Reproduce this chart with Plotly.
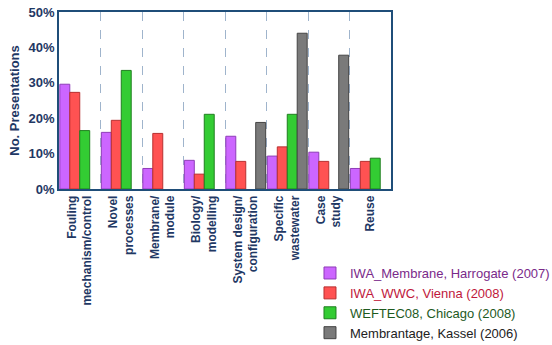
import plotly.graph_objects as go

categories = ["Fouling<br>mechanism/control", "Novel<br>processes", "Membrane/<br>module",
              "Biology/<br>modelling", "System design/<br>configuration", "Specific<br>wastewater",
              "Case<br>study", "Reuse"]
iwa_membrane = [29.6, 16.0, 5.8, 8.1, 14.9, 9.3, 10.4, 5.8]
iwa_wwc = [27.3, 19.4, 15.7, 4.2, 7.8, 11.9, 7.8, 7.8]
weftec = [16.5, 33.5, None, 21.1, None, 21.1, None, 8.7]
membrantage = [None, None, None, None, 18.8, 44.0, 37.8, None]
y_ticks = [0, 10, 20, 30, 40, 50]
y_ticklabels = ["0%", "10%", "20%", "30%", "40%", "50%"]

series = [
    ("IWA_Membrane, Harrogate (2007)", iwa_membrane, "#CC66FF", "#8E3DB8", "#7A2A8A"),
    ("IWA_WWC, Vienna (2008)", iwa_wwc, "#FF5252", "#B83030", "#C0183C"),
    ("WEFTEC08, Chicago (2008)", weftec, "#33CC33", "#1F7F1F", "#1E5A1E"),
    ("Membrantage, Kassel (2006)", membrantage, "#7A7A7A", "#444444", "#222222"),
]

navy = "#1F3864"
fig = go.Figure()
for name, vals, col, edge, txtcol in series:
    fig.add_trace(go.Bar(
        x=categories, y=vals,
        name=f"<span style='color:{txtcol}'>{name}</span>",
        marker=dict(color=col, line=dict(color=edge, width=1)),
    ))

fig.update_layout(
    width=552, height=345,
    margin=dict(l=59, r=161, t=12, b=156, autoexpand=False),
    paper_bgcolor="white", plot_bgcolor="white",
    barmode="group", bargap=0.04, bargroupgap=0.0,
    font=dict(family="Arial, Liberation Sans, sans-serif", color=navy),
    showlegend=True,
    legend=dict(x=0.756, y=-0.39, xanchor="left", yanchor="top",
                font=dict(size=13, family="Arial, Liberation Sans, sans-serif"),
                bgcolor="rgba(0,0,0,0)", traceorder="normal"),
    xaxis=dict(
        automargin=False,
        tickangle=-90, tickson="boundaries", showgrid=True,
        gridcolor="#9FB4CC", griddash="dash", gridwidth=1,
        showline=True, linecolor="#1F4E79", linewidth=1.5, mirror=True,
        ticks="", tickfont=dict(size=12, color=navy),
    ),
    yaxis=dict(
        automargin=False,
        range=[0, 50], tickvals=y_ticks, ticktext=[f"<b>{t}</b>" for t in y_ticklabels],
        showgrid=False, zeroline=False,
        showline=True, linecolor="#1F4E79", linewidth=1.5, mirror=True,
        ticks="", tickfont=dict(size=13, color=navy),
        title=dict(text="<b>No. Presentations</b>", font=dict(size=13, color=navy), standoff=6),
    ),
)
fig.update_xaxes(ticktext=[f"<b>{c}</b>" for c in categories], tickvals=categories)
fig.write_html("out.html")
